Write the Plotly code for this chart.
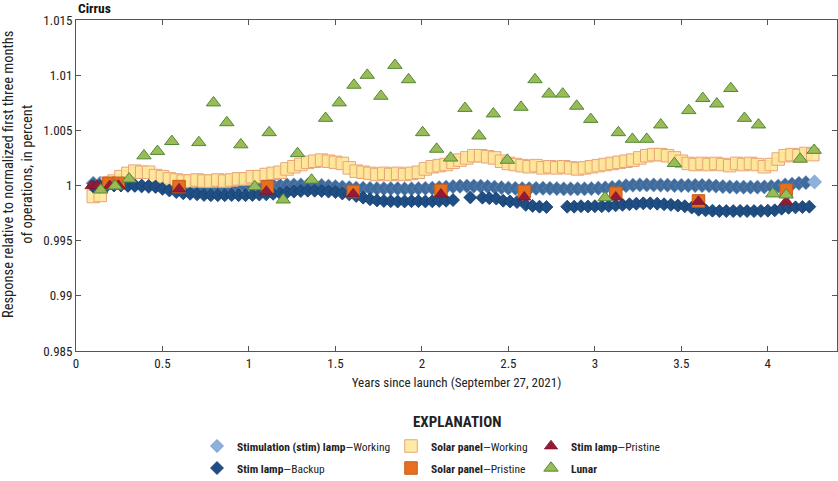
import plotly.graph_objects as go

# ---------------- data ----------------
stim_working_x = [0.10, 0.14, 0.18, 0.22, 0.26, 0.30, 0.34, 0.38, 0.42, 0.46, 0.50, 0.54, 0.58, 0.62, 0.66,
                  0.70, 0.74, 0.78, 0.82, 0.86, 0.90, 0.94, 0.98, 1.02, 1.06, 1.10, 1.14, 1.18, 1.22, 1.26,
                  1.30, 1.34, 1.38, 1.42, 1.46, 1.50, 1.54, 1.58, 1.62, 1.66, 1.70, 1.74, 1.78, 1.82, 1.86,
                  1.90, 1.94, 1.98, 2.02, 2.06, 2.10, 2.14, 2.18, 2.22, 2.26, 2.30, 2.34, 2.38, 2.42, 2.46,
                  2.50, 2.54, 2.58, 2.62, 2.66, 2.70, 2.74, 2.78, 2.82, 2.86, 2.90, 2.94, 2.98, 3.02, 3.06,
                  3.10, 3.14, 3.18, 3.22, 3.26, 3.30, 3.34, 3.38, 3.42, 3.46, 3.50, 3.54, 3.58, 3.62, 3.66,
                  3.70, 3.74, 3.78, 3.82, 3.86, 3.90, 3.94, 3.98, 4.02, 4.06, 4.10, 4.14, 4.18, 4.22, 4.27]
stim_working_y = [1.0002, 1.0002, 1.00015, 1.0001, 1.0001, 1.0000, 1.0000, 0.99995, 0.9999, 0.9999, 0.99985, 0.9998, 0.9998, 0.99975, 0.99975,
                  0.99976, 0.9998, 0.9998, 0.9998, 0.99983, 0.99985, 0.99988, 0.9999, 0.9999, 0.99995, 1.0000, 1.0000, 1.0000, 1.00005, 1.00005,
                  1.00005, 1.00005, 1.0000, 1.0000, 0.99995, 0.9999, 0.99985, 0.9998, 0.99977, 0.99975, 0.99973, 0.99972, 0.99972, 0.99972, 0.99972,
                  0.9997, 0.9997, 0.99972, 0.99974, 0.99976, 0.9998, 0.99985, 0.9999, 0.99993, 0.99995, 0.99995, 0.99993, 0.9999, 0.99985, 0.9998,
                  0.99976, 0.99974, 0.99972, 0.99972, 0.99974, 0.99975, 0.99974, 0.99972, 0.9997, 0.9997, 0.9997, 0.9997, 0.99972, 0.99975, 0.99978,
                  0.99982, 0.9999, 0.99998, 1.00003, 1.00005, 1.00005, 1.00005, 1.00004, 1.00003, 1.0000, 1.0000, 1.0000, 1.0000, 1.0000, 0.99998,
                  0.99995, 0.9999, 0.99987, 0.99985, 0.99985, 0.99985, 0.99985, 0.99987, 0.9999, 0.99995, 1.00005, 1.00012, 1.0002, 1.00026, 1.00032]

stim_backup_x = [0.10, 0.14, 0.18, 0.22, 0.26, 0.30, 0.34, 0.38, 0.42, 0.46, 0.50, 0.54, 0.58, 0.62, 0.66,
                 0.70, 0.74, 0.78, 0.82, 0.86, 0.90, 0.94, 0.98, 1.02, 1.06, 1.10, 1.14, 1.18, 1.22, 1.26,
                 1.30, 1.34, 1.38, 1.42, 1.46, 1.50, 1.54, 1.58, 1.62, 1.66, 1.70, 1.74, 1.78, 1.82, 1.86,
                 1.90, 1.94, 1.98, 2.02, 2.06, 2.10, 2.14, 2.18, 2.28, 2.35, 2.39, 2.43, 2.47, 2.51, 2.55,
                 2.60, 2.64, 2.68, 2.72, 2.84, 2.88, 2.92, 2.96, 3.00, 3.04, 3.08, 3.12, 3.16, 3.20, 3.24,
                 3.28, 3.32, 3.36, 3.40, 3.44, 3.48, 3.52, 3.56, 3.60, 3.64, 3.68, 3.72, 3.76, 3.80, 3.84,
                 3.88, 3.92, 3.96, 4.00, 4.04, 4.08, 4.12, 4.16, 4.20, 4.24]
stim_backup_y = [0.9999, 0.99995, 1.0000, 1.0000, 1.0000, 1.0000, 1.0000, 0.99998, 0.99995, 0.9999, 0.9997, 0.99955, 0.9994, 0.9993, 0.99925,
                 0.9992, 0.99915, 0.99912, 0.99912, 0.99912, 0.99914, 0.99912, 0.99912, 0.99915, 0.99918, 0.9992, 0.99925, 0.9993, 0.99938, 0.99945,
                 0.9995, 0.99953, 0.99953, 0.9995, 0.99945, 0.9994, 0.99928, 0.9992, 0.99905, 0.9989, 0.99875, 0.99865, 0.9986, 0.99858, 0.99855,
                 0.99856, 0.99858, 0.99858, 0.99856, 0.99857, 0.9986, 0.99862, 0.99868, 0.99892, 0.9989, 0.99885, 0.99882, 0.99862, 0.99855, 0.9985,
                 0.99825, 0.99815, 0.99808, 0.99805, 0.99808, 0.99808, 0.99812, 0.9981, 0.99812, 0.99812, 0.99815, 0.9982, 0.99825, 0.9983, 0.99835,
                 0.99838, 0.99838, 0.99835, 0.9983, 0.99825, 0.99818, 0.99812, 0.998, 0.9978, 0.99775, 0.99772, 0.99768, 0.99768, 0.99768, 0.9977,
                 0.99768, 0.99768, 0.9977, 0.99772, 0.99775, 0.9979, 0.99798, 0.99802, 0.99805, 0.99808]

solar_working_x = stim_working_x[:-1] + [4.26]
solar_working_y = [0.9990, 0.9991, 1.0002, 1.0004, 1.0008, 1.0011, 1.0013, 1.0012, 1.0012, 1.0009, 1.0008, 1.0006, 1.0005, 1.0004, 1.0004,
                   1.0005, 1.0004, 1.0004, 1.0005, 1.0004, 1.0005, 1.0006, 1.0006, 1.0008, 1.0008, 1.0010, 1.0011, 1.0012, 1.0015, 1.0017,
                   1.0019, 1.0021, 1.0022, 1.0023, 1.0022, 1.0021, 1.0020, 1.0016, 1.0013, 1.0012, 1.0011, 1.0010, 1.0011, 1.0010, 1.0011,
                   1.0010, 1.0011, 1.0012, 1.0015, 1.0017, 1.0018, 1.0019, 1.0021, 1.0023, 1.0025, 1.0027, 1.0027, 1.0026, 1.0025, 1.0022,
                   1.0020, 1.0019, 1.0018, 1.0017, 1.0018, 1.0016, 1.0017, 1.0016, 1.0017, 1.0016, 1.0015, 1.0016, 1.0017, 1.0018, 1.0019,
                   1.0020, 1.0021, 1.0022, 1.0023, 1.0025, 1.0027, 1.0028, 1.0028, 1.0027, 1.0025, 1.0022, 1.0020, 1.0019, 1.0020, 1.0019,
                   1.0020, 1.0019, 1.0018, 1.0020, 1.0019, 1.0020, 1.0019, 1.0017, 1.0019, 1.0024, 1.0027, 1.0028, 1.0027, 1.0029, 1.0028]

solar_pristine_x = [0.19, 0.245, 0.596, 1.107, 1.603, 2.110, 2.592, 3.121, 3.599, 4.106]
solar_pristine_y = [1.0002, 1.0002, 0.9999, 0.9999, 0.99946, 0.99955, 0.99946, 0.9993, 0.9986, 0.9996]

stim_pristine_x = [0.09, 0.12, 0.195, 0.225, 0.245, 0.596, 1.101, 1.603, 2.110, 2.592, 3.121, 3.599, 4.106]
stim_pristine_y = [0.99997, 0.99997, 0.99997, 1.0000, 1.0000, 0.99967, 0.99946, 0.99922, 0.9992, 0.99894, 0.99894, 0.99855, 0.99855]

lunar_x = [0.143, 0.226, 0.307, 0.393, 0.471, 0.554, 0.710, 0.795, 0.872, 0.953, 1.034, 1.117, 1.198,
           1.281, 1.362, 1.443, 1.522, 1.607, 1.684, 1.763, 1.844, 1.923, 2.004, 2.085, 2.166, 2.249,
           2.330, 2.413, 2.494, 2.573, 2.654, 2.735, 2.814, 2.895, 2.976, 3.059, 3.136, 3.217, 3.300,
           3.381, 3.460, 3.543, 3.624, 3.705, 3.786, 3.865, 3.946, 4.029, 4.106, 4.187, 4.268]
lunar_y = [0.9996, 0.99997, 1.0006, 1.0027, 1.0031, 1.0040, 1.0039, 1.0075, 1.0057, 1.0037, 0.9999, 1.0048, 0.9987,
           1.0029, 1.0005, 1.0061, 1.0075, 1.0091, 1.0100, 1.0081, 1.0109, 1.0096, 1.0048, 1.0033, 1.0025, 1.0070,
           1.0045, 1.0065, 1.0023, 1.0071, 1.0096, 1.0083, 1.0083, 1.0072, 1.0060, 0.9989, 1.0048, 1.0042, 1.0042,
           1.0055, 1.0020, 1.0068, 1.0079, 1.0074, 1.0088, 1.0061, 1.0055, 0.99925, 0.99915, 1.0024, 1.0032]

x_ticks = [0, 0.5, 1, 1.5, 2, 2.5, 3, 3.5, 4]
x_tick_text = ["0", "0.5", "1", "1.5", "2", "2.5", "3", "3.5", "4"]
y_ticks = [0.985, 0.99, 0.995, 1, 1.005, 1.01, 1.015]
y_tick_text = ["0.985", "0.99", "0.995", "1", "1.005", "1.01", "1.015"]

# ---------------- figure ----------------
FONT = "Liberation Sans Narrow, Arial Narrow, Roboto Condensed, DejaVu Sans Condensed, sans-serif"
L, R, T, B = 76, 1, 20, 130
W, H = 838, 481
PH = H - T - B

def py(pix):
    return (H - B - pix) / PH

def px(pix):
    return (pix - L) / (W - L - R)

fig = go.Figure()

band_colors = ["#3f6c9c"] * (len(stim_working_x) - 1) + ["#8fb0dc"]
fig.add_trace(go.Scatter(
    x=stim_working_x, y=stim_working_y, mode="markers", showlegend=False,
    marker=dict(symbol="diamond", size=11, color=band_colors,
                line=dict(color="#6f92c0", width=0.5)),
))
fig.add_trace(go.Scatter(
    x=solar_working_x, y=solar_working_y, mode="markers", name="<b>Solar panel</b>—Working",
    legend="legend2",
    marker=dict(symbol="square", size=12.5, color="rgba(255,230,150,0.85)",
                line=dict(color="#e8a478", width=1)),
))
fig.add_trace(go.Scatter(
    x=stim_backup_x, y=stim_backup_y, mode="markers", name="<b>Stim lamp</b>—Backup",
    legend="legend4",
    marker=dict(symbol="diamond", size=10, color="#1f4e85",
                line=dict(color="#173d69", width=0.8)),
))
fig.add_trace(go.Scatter(
    x=solar_pristine_x, y=solar_pristine_y, mode="markers", name="<b>Solar panel</b>—Pristine",
    legend="legend5",
    marker=dict(symbol="square", size=12.5, color="#e6701f",
                line=dict(color="#c65b1b", width=1)),
))
fig.add_trace(go.Scatter(
    x=stim_pristine_x, y=stim_pristine_y, mode="markers", name="<b>Stim lamp</b>—Pristine",
    legend="legend3",
    marker=dict(symbol="triangle-up", size=11.5, color="#961a36",
                line=dict(color="#7a1428", width=0.8)),
))
fig.add_trace(go.Scatter(
    x=lunar_x, y=lunar_y, mode="markers", name="<b>Lunar</b>",
    legend="legend6",
    marker=dict(symbol="triangle-up", size=12.5, color="#9bbb59",
                line=dict(color="#4f8a33", width=1)),
))
# legend entry for the working stim lamp
fig.add_trace(go.Scatter(
    x=[None], y=[None], mode="markers", name="<b>Stimulation (stim) lamp</b>—Working",
    legend="legend",
    marker=dict(symbol="diamond", size=10, color="#8fb0dc",
                line=dict(color="#6d8fc0", width=0.8)),
))

axis_common = dict(showline=True, linecolor="#555555", linewidth=1, mirror="ticks",
                   ticks="inside", ticklen=5, tickcolor="#555555", showgrid=False, zeroline=False,
                   tickfont=dict(family=FONT, size=13, color="#222222"))

LEG_FONT = dict(family=FONT, size=11.5, color="#222222")
col_left = [197, 391, 531]
row_y = [446, 468]

def leg(col, row):
    return dict(x=px(col_left[col]), xanchor="left", y=py(row_y[row]), yanchor="middle",
                orientation="v", font=LEG_FONT, bgcolor="rgba(0,0,0,0)")

fig.update_layout(
    width=W, height=H,
    margin=dict(l=L, r=R, t=T, b=B, autoexpand=False),
    paper_bgcolor="white", plot_bgcolor="white",
    font=dict(family=FONT, color="#222222"),
    xaxis=dict(range=[0, 4.4], tickvals=x_ticks, ticktext=x_tick_text,
               title=dict(text="Years since launch (September 27, 2021)",
                          font=dict(family=FONT, size=13, color="#222222"), standoff=8),
               automargin=False, **axis_common),
    yaxis=dict(range=[0.985, 1.015], tickvals=y_ticks, ticktext=y_tick_text,
               automargin=False, **axis_common),
    legend=leg(0, 0),
    legend2=leg(1, 0),
    legend3=leg(2, 0),
    legend4=leg(0, 1),
    legend5=leg(1, 1),
    legend6=leg(2, 1),
    annotations=[
        dict(text="<b>Cirrus</b>", xref="paper", yref="paper", x=0, y=1, xanchor="left",
             yanchor="bottom", yshift=2, showarrow=False,
             font=dict(family=FONT, size=13.5, color="#111111")),
        dict(text="<b>EXPLANATION</b>", xref="paper", yref="paper", x=0.5, y=py(422),
             xanchor="center", yanchor="middle", showarrow=False,
             font=dict(family=FONT, size=15, color="#222222")),
        dict(text="Response relative to normalized first three months<br>of operations, in percent",
             xref="paper", yref="paper", x=px(18), y=py(175), xanchor="center", yanchor="middle",
             textangle=-90, showarrow=False,
             font=dict(family=FONT, size=14.5, color="#222222")),
    ],
)

fig.write_html("out.html", config={"displayModeBar": False},
               post_script="document.body.style.margin='0px';")
